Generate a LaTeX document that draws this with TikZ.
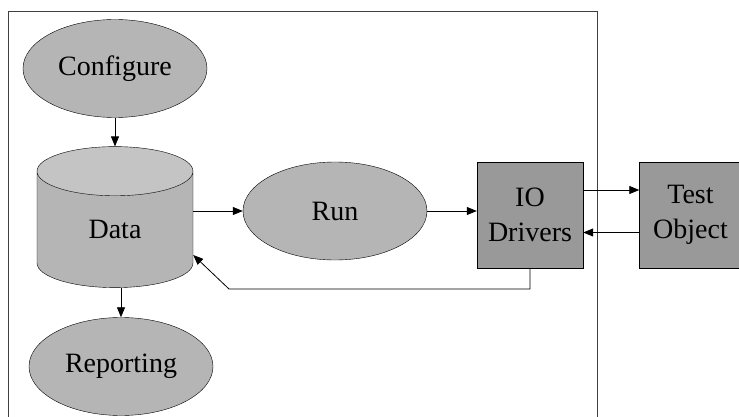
\documentclass[tikz,border=0pt]{standalone}
\usepackage{fontspec}
\setmainfont{Liberation Serif}
\usetikzlibrary{shapes.geometric,arrows.meta}

\definecolor{procgray}{RGB}{181,181,181}
\definecolor{endgray}{RGB}{196,196,196}
\definecolor{boxgray}{RGB}{153,153,153}

\begin{document}
\begin{tikzpicture}[x=1pt, y=-1pt,
    every node/.style={font=\fontsize{28}{35}\selectfont, inner sep=0pt},
    proc/.style={ellipse, draw, fill=procgray, minimum width=184pt, minimum height=98pt},
    unit/.style={rectangle, draw, fill=boxgray, align=center, minimum height=106pt},
    store/.style={cylinder, shape border rotate=90, draw, aspect=0.93,
      cylinder uses custom fill, cylinder body fill=procgray, cylinder end fill=endgray,
      minimum width=156pt, minimum height=141pt},
    link/.style={-{Triangle[length=10pt,width=8pt]}, line width=0.8pt}]
  \useasboundingbox (0,0) rectangle (739,417);
  \clip (0,0) rectangle (739,417);

  \draw[black!75, line width=1pt] (8,12) rectangle (597,440);

  \node[proc] (conf) at (115, 68.5) {Configure};
  \node[store] (data) at (115, 229.5) {Data};
  \node[proc] (run) at (335, 211) {Run};
  \node[proc] (rep) at (121, 366.5) {Reporting};
  \node[unit, minimum width=106pt] (io) at (530, 215) {IO\\Drivers};
  \node[unit, minimum width=102pt] (test) at (690.5, 215) {Test\\Object};
  \coordinate (bend) at (229, 289);

  \draw[link] (conf.south) -- (data.north);
  \draw[link] (data.east |- run.west) -- (run.west);
  \draw[link] (run.east) -- (run.east -| io.west);
  \draw[link] ([yshift=25pt]io.east) -- ([yshift=25pt]io.east -| test.west);
  \draw[link] ([yshift=-17.5pt]test.west) -- ([yshift=-17.5pt]test.west -| io.east);
  \draw[link] (io.south) |- (bend) -- ([yshift=-25.5pt]data.east);
  \draw[link] (data.south -| rep.north) -- (rep.north);
\end{tikzpicture}
\end{document}
